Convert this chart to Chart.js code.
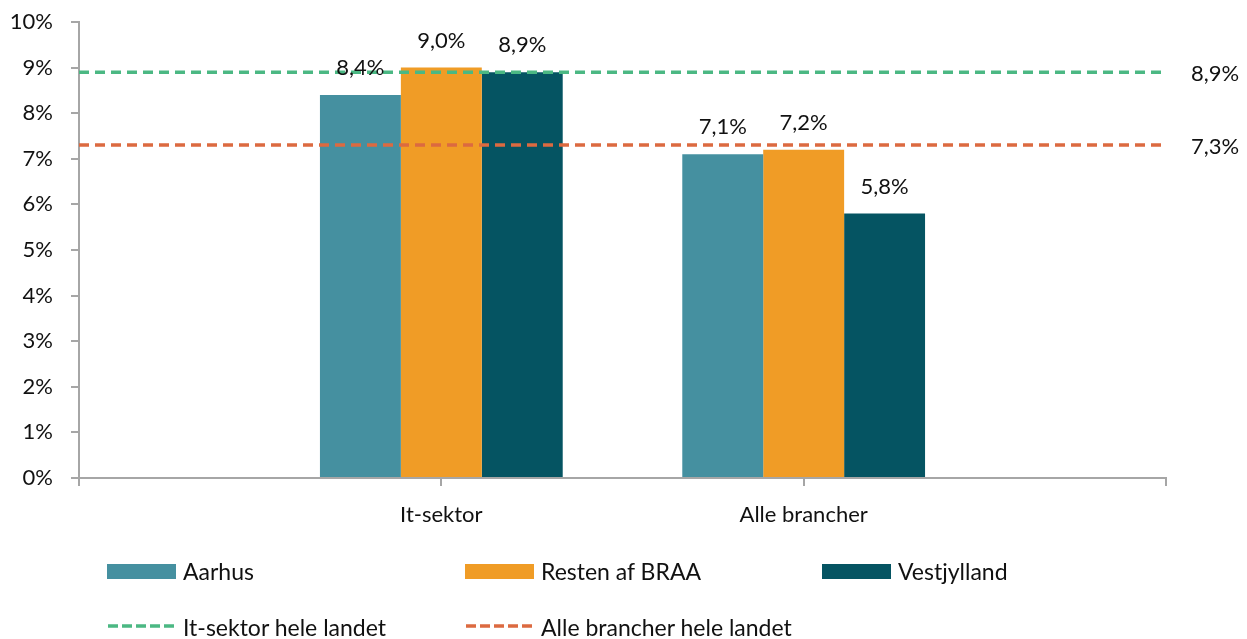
<!DOCTYPE html>
<html>
<head>
<meta charset="utf-8">
<script src="https://cdn.jsdelivr.net/npm/chart.js@4/dist/chart.umd.min.js"></script>
<style>
  html, body { margin: 0; padding: 0; background: #fff; }
  #wrap { position: relative; width: 1247px; height: 639px; font-family: Lato, sans-serif; }
  #wrap canvas { position: absolute; left: 0; top: 0; }
  .lg { position: absolute; font-size: 23px; color: #111; line-height: 23px; white-space: nowrap; }
  .sw { position: absolute; width: 69px; height: 15px; }
  .ln { position: absolute; width: 69px; height: 6px; }
</style>
</head>
<body>
<div id="wrap">
  <canvas id="chart" width="1247" height="639"></canvas>
  <div id="legend"></div>
</div>
<script>
const kategorier = ['', 'It-sektor', 'Alle brancher', '']
const aarhus = [null, 8.4, 7.1, null]
const restenBraa = [null, 9.0, 7.2, null]
const vestjylland = [null, 8.9, 5.8, null]
const itHeleLandet = [8.9, 8.9, 8.9, 8.9]
const alleHeleLandet = [7.3, 7.3, 7.3, 7.3]
const yTicks = [0, 1, 2, 3, 4, 5, 6, 7, 8, 9, 10]

const farver = {
    aarhus: '#4590a0',
    resten: '#f09c26',
    vest: '#055462',
    itLinje: '#4bb883',
    alleLinje: '#dc6a40'
}

const fmt = v => v.toFixed(1).replace('.', ',') + '%'

// værdier over søjler og til højre for linjerne
const etiketter = {
    id: 'etiketter',
    afterDatasetsDraw(chart) {
        const ctx = chart.ctx
        ctx.save()
        ctx.font = '22px Lato'
        ctx.fillStyle = '#111'
        ctx.textBaseline = 'middle'
        chart.data.datasets.forEach((ds, i) => {
            const meta = chart.getDatasetMeta(i)
            if (ds.type === 'line') {
                const last = meta.data[meta.data.length - 1]
                ctx.textAlign = 'left'
                ctx.fillText(fmt(ds.data[ds.data.length - 1]), last.x + 25, last.y + 2)
            } else {
                ctx.textAlign = 'center'
                meta.data.forEach((el, j) => {
                    if (ds.data[j] == null) return
                    ctx.fillText(fmt(ds.data[j]), el.x, el.y - 27)
                })
            }
        })
        ctx.restore()
    }
}

const data = {
    labels: kategorier,
    datasets: [
        { type: 'line', label: 'It-sektor hele landet', data: itHeleLandet, borderColor: farver.itLinje, borderWidth: 3.5, borderDash: [10, 6], pointRadius: 0, order: 0 },
        { type: 'line', label: 'Alle brancher hele landet', data: alleHeleLandet, borderColor: farver.alleLinje, borderWidth: 3.5, borderDash: [10, 6], pointRadius: 0, order: 0 },
        { label: 'Aarhus', data: aarhus, backgroundColor: farver.aarhus, order: 1 },
        { label: 'Resten af BRAA', data: restenBraa, backgroundColor: farver.resten, order: 1 },
        { label: 'Vestjylland', data: vestjylland, backgroundColor: farver.vest, order: 1 }
    ]
}

const config = {
    type: 'bar',
    data: data,
    options: {
        responsive: false,
        animation: false,
        categoryPercentage: 0.67,
        barPercentage: 1,
        layout: { padding: { top: 22, right: 81, left: 0, bottom: 0 } },
        plugins: { legend: { display: false }, tooltip: { enabled: false } },
        scales: {
            x: {
                offset: false,
                grid: { offset: false, drawOnChartArea: false, tickLength: 8, color: '#a6a6a6', lineWidth: 2 },
                border: { color: '#a6a6a6', width: 2 },
                ticks: { color: '#111', font: { family: 'Lato', size: 22 }, padding: 16, maxRotation: 0, autoSkip: false },
                afterFit: s => { s.height = 161; s.paddingLeft = 0; s.paddingRight = 0 }
            },
            y: {
                min: 0,
                max: 10,
                afterBuildTicks: s => { s.ticks = yTicks.map(v => ({ value: v })) },
                grid: { drawOnChartArea: false, tickLength: 8, color: '#a6a6a6', lineWidth: 2 },
                border: { color: '#a6a6a6', width: 2 },
                ticks: { color: '#111', font: { family: 'Lato', size: 22 }, padding: 18, callback: v => v + '%' },
                afterFit: s => { s.width = 79; s.paddingTop = 0; s.paddingBottom = 0 }
            }
        }
    },
    plugins: [etiketter]
}

new Chart(document.getElementById('chart').getContext('2d'), config)

// forklaring i to rækker
const legendItems = [
    { label: 'Aarhus', color: farver.aarhus, kind: 'bar', x: 107, y: 564 },
    { label: 'Resten af BRAA', color: farver.resten, kind: 'bar', x: 465, y: 564 },
    { label: 'Vestjylland', color: farver.vest, kind: 'bar', x: 822, y: 564 },
    { label: 'It-sektor hele landet', color: farver.itLinje, kind: 'line', x: 107, y: 623 },
    { label: 'Alle brancher hele landet', color: farver.alleLinje, kind: 'line', x: 465, y: 623 }
]
const lg = document.getElementById('legend')
legendItems.forEach(it => {
    if (it.kind === 'bar') {
        const sw = document.createElement('div')
        sw.className = 'sw'
        sw.style.left = it.x + 'px'
        sw.style.top = it.y + 'px'
        sw.style.background = it.color
        lg.appendChild(sw)
    } else {
        const svg = document.createElementNS('http://www.w3.org/2000/svg', 'svg')
        svg.setAttribute('class', 'ln')
        svg.setAttribute('width', '69')
        svg.setAttribute('height', '6')
        svg.style.left = it.x + 'px'
        svg.style.top = it.y + 'px'
        svg.innerHTML = '<line x1="1" y1="3" x2="69" y2="3" stroke="' + it.color + '" stroke-width="3.5" stroke-dasharray="10 4"/>'
        lg.appendChild(svg)
    }
    const t = document.createElement('div')
    t.className = 'lg'
    t.textContent = it.label
    t.style.left = (it.x + 76) + 'px'
    t.style.top = (it.kind === 'bar' ? it.y - 4 : it.y - 7) + 'px'
    lg.appendChild(t)
})
</script>
</body>
</html>
